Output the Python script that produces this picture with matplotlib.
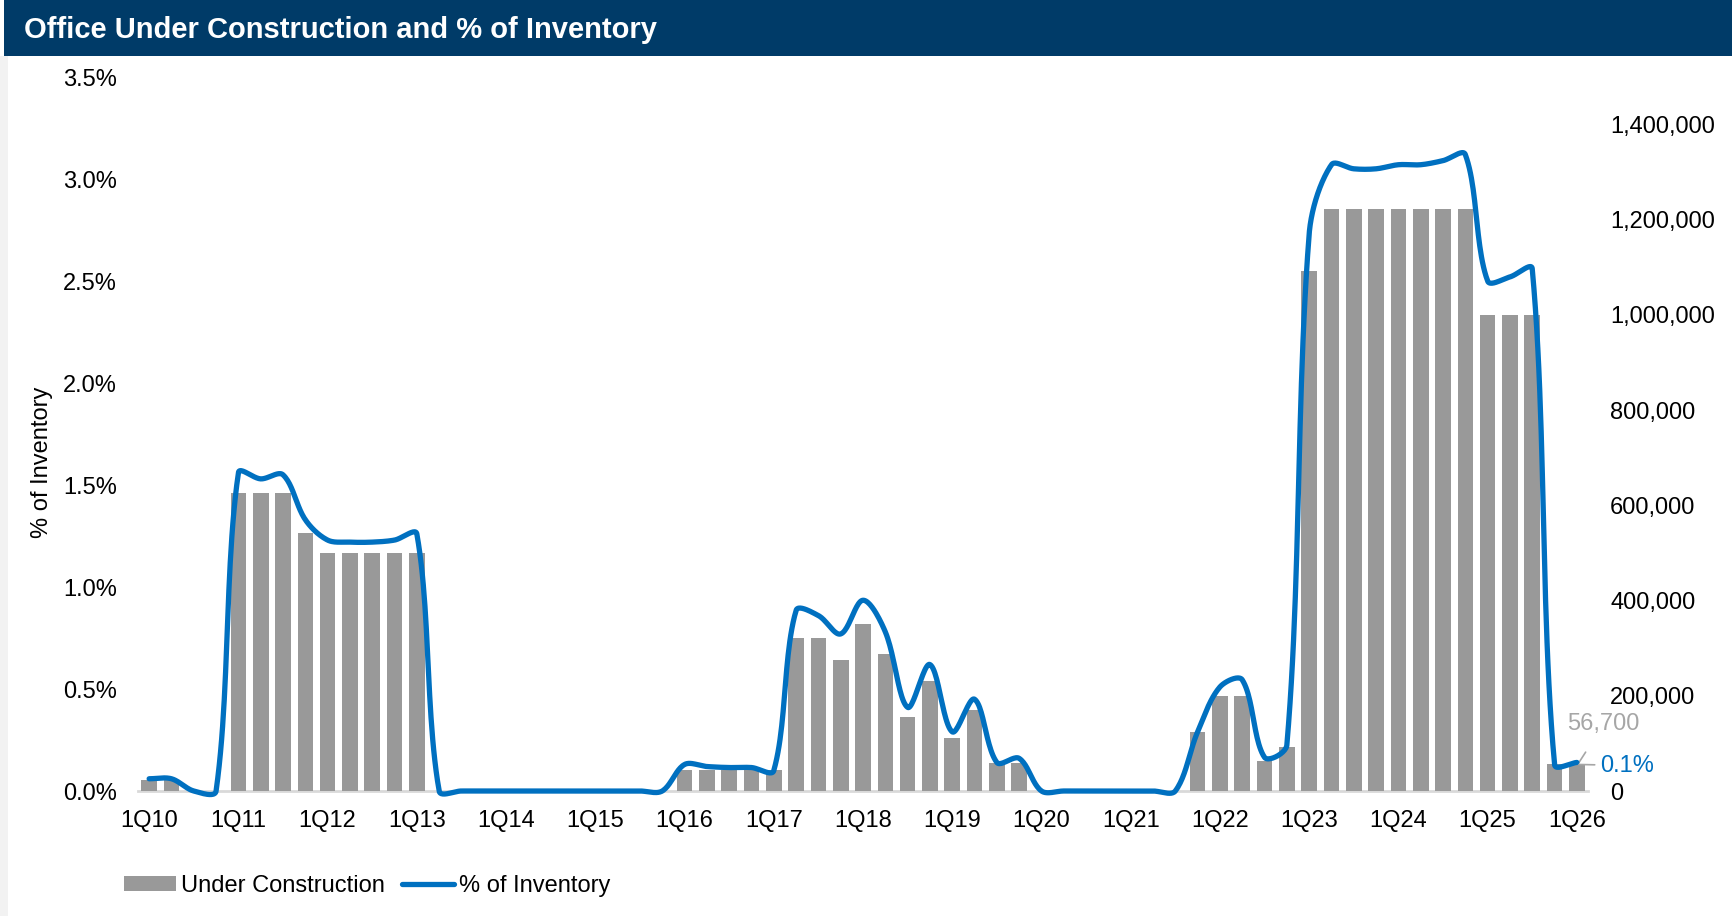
import matplotlib
matplotlib.use("Agg")
import matplotlib.pyplot as plt
import numpy as np
from matplotlib.patches import Rectangle, Patch
from matplotlib.lines import Line2D
from matplotlib.ticker import FuncFormatter

plt.rcParams['font.family'] = ['Liberation Sans', 'DejaVu Sans']

# ---------------- data ----------------
tick_labels = ['1Q10', '1Q11', '1Q12', '1Q13', '1Q14', '1Q15', '1Q16', '1Q17', '1Q18',
               '1Q19', '1Q20', '1Q21', '1Q22', '1Q23', '1Q24', '1Q25', '1Q26']

under_construction = [
    23000, 23000, 0, 0,                                   # 2010
    627000, 627000, 627000, 542000,                       # 2011
    500000, 500000, 500000, 500000,                       # 2012
    500000, 0, 0, 0,                                      # 2013
    0, 0, 0, 0,                                           # 2014
    0, 0, 0, 0,                                           # 2015
    45000, 45000, 45000, 45000,                           # 2016
    45000, 322000, 322000, 275000,                        # 2017
    350000, 287000, 155000, 232000,                       # 2018
    112000, 171000, 58000, 58000,                         # 2019
    0, 0, 0, 0,                                           # 2020
    0, 0, 0, 124000,                                      # 2021
    199000, 199000, 62000, 92000,                         # 2022
    1092000, 1223000, 1223000, 1223000,                   # 2023
    1223000, 1223000, 1223000, 1223000,                   # 2024
    1000000, 1000000, 1000000, 56700,                     # 2025
    56700,                                                # 1Q26
]

pct_inventory = [
    0.06, 0.06, 0.0, 0.0,
    1.56, 1.53, 1.55, 1.33,
    1.23, 1.22, 1.22, 1.23,
    1.26, 0.0, 0.0, 0.0,
    0.0, 0.0, 0.0, 0.0,
    0.0, 0.0, 0.0, 0.0,
    0.13, 0.12, 0.115, 0.115,
    0.10, 0.885, 0.86, 0.77,
    0.935, 0.78, 0.41, 0.62,
    0.29, 0.45, 0.14, 0.16,
    0.0, 0.0, 0.0, 0.0,
    0.0, 0.0, 0.0, 0.29,
    0.51, 0.545, 0.165, 0.225,
    2.73, 3.07, 3.05, 3.05,
    3.07, 3.07, 3.09, 3.12,
    2.50, 2.52, 2.56, 0.13,
    0.14,
]

last_uc_label = '56,700'
last_pct_label = '0.1%'

# ---------------- styles ----------------
NAVY = '#003B68'
BAR = '#999999'
BLUE = '#0070C0'
FS = 17

W, H = 1732, 916
fig = plt.figure(figsize=(W / 100, H / 100), dpi=100)

# title band
fig.patches.append(Rectangle((4 / W, 1 - 56 / H), 1 - 4 / W, 56 / H, transform=fig.transFigure,
                             facecolor=NAVY, edgecolor='none', zorder=0))
fig.patches.append(Rectangle((0, 0), 8 / W, 1 - 56 / H, transform=fig.transFigure,
                             facecolor='#F2F2F2', edgecolor='none', zorder=0))
fig.text(24 / W, 1 - 30 / H, 'Office Under Construction and % of Inventory', color='white',
         fontsize=21, fontweight='bold', va='center', ha='left')

left, right, bottom, top = 138 / W, 1588 / W, 1 - 791 / H, 1 - 77 / H
ax = fig.add_axes([left, bottom, right - left, top - bottom])
ax2 = ax.twinx()

n = len(under_construction)
x = np.arange(n)

ax2.bar(x, under_construction, width=0.7, color=BAR, zorder=2)

ax.set_xlim(-0.5, n - 0.5)
ax.set_ylim(0, 3.5)
ax2.set_ylim(0, 1500000)


def smooth_display(axis, xs, ys, k=1 / 3, steps=24):
    """Excel-like smoothing: Bezier segments whose tangent handles are
    (P[i+1]-P[i-1]) scaled by the relative segment length, in display space."""
    pts = axis.transData.transform(np.column_stack([xs, ys]).astype(float))
    m = len(pts)
    out = []
    for i in range(m - 1):
        p0 = pts[max(i - 1, 0)]
        p1 = pts[i]
        p2 = pts[i + 1]
        p3 = pts[min(i + 2, m - 1)]
        d01 = np.linalg.norm(p1 - p0)
        d12 = np.linalg.norm(p2 - p1)
        d23 = np.linalg.norm(p3 - p2)
        f1 = d12 / (d01 + d12) if (d01 + d12) > 0 else 0.0
        f2 = d12 / (d12 + d23) if (d12 + d23) > 0 else 0.0
        c1 = p1 + (p2 - p0) * f1 * k
        c2 = p2 - (p3 - p1) * f2 * k
        t = np.linspace(0, 1, steps, endpoint=False)[:, None]
        b = ((1 - t) ** 3) * p1 + 3 * ((1 - t) ** 2) * t * c1 + 3 * (1 - t) * t ** 2 * c2 + t ** 3 * p2
        out.append(b)
    out.append(pts[-1:])
    out = np.vstack(out)
    return axis.transData.inverted().transform(out)


curve = smooth_display(ax, x, pct_inventory)
ax.plot(curve[:, 0], curve[:, 1], color=BLUE, lw=3.8, solid_capstyle='round',
        solid_joinstyle='round', zorder=5, clip_on=False)

ax.set_zorder(ax2.get_zorder() + 1)
ax.patch.set_visible(False)

ax.set_yticks(np.arange(0, 3.51, 0.5))
ax.yaxis.set_major_formatter(FuncFormatter(lambda v, p: f'{v:.1f}%'))
ax2.set_yticks(np.arange(0, 1400001, 200000))
ax2.yaxis.set_major_formatter(FuncFormatter(lambda v, p: f'{int(v):,}'))

ax.set_xticks(np.arange(0, n, 4))
ax.set_xticklabels(tick_labels)

for a in (ax, ax2):
    for sp in a.spines.values():
        sp.set_visible(False)
    a.tick_params(length=0, labelsize=FS, colors='black')
ax.tick_params(axis='y', pad=15)
ax2.tick_params(axis='y', pad=16)
ax.tick_params(axis='x', pad=14)

ax2.spines['bottom'].set_visible(True)
ax2.spines['bottom'].set_color('#D9D9D9')
ax2.spines['bottom'].set_linewidth(2)
ax2.spines['bottom'].set_zorder(1)

fig.text(42 / W, 1 - 462 / H, '% of Inventory', rotation=90, fontsize=FS,
         ha='center', va='center')

# annotations for the last point
ax2.annotate(last_uc_label, xy=(64.05, under_construction[-1]), xytext=(65.2, 140000),
             textcoords='data', color='#A6A6A6', fontsize=FS, ha='center', va='center',
             arrowprops=dict(arrowstyle='-', color='#A6A6A6', lw=1.2, shrinkA=12, shrinkB=0),
             annotation_clip=False, zorder=6)
ax.annotate(last_pct_label, xy=(64.1, pct_inventory[-1] - 0.01), xytext=(65.05, 0.125),
            textcoords='data', color=BLUE, fontsize=FS, ha='left', va='center',
            arrowprops=dict(arrowstyle='-', color='#A6A6A6', lw=1.2, shrinkA=2, shrinkB=0),
            annotation_clip=False, zorder=6)

handles = [Patch(facecolor=BAR, edgecolor='none'),
           Line2D([0], [0], color=BLUE, lw=3.8, solid_capstyle='round')]
fig.legend(handles, ['Under Construction', '% of Inventory'], loc='center left',
           bbox_to_anchor=(124 / W, 1 - 886 / H), ncol=2, frameon=False, fontsize=FS,
           handlelength=2.2, handleheight=0.6, handletextpad=0.2, columnspacing=0.75,
           borderpad=0, borderaxespad=0)

fig.savefig('out.png', dpi=100, facecolor='white')
